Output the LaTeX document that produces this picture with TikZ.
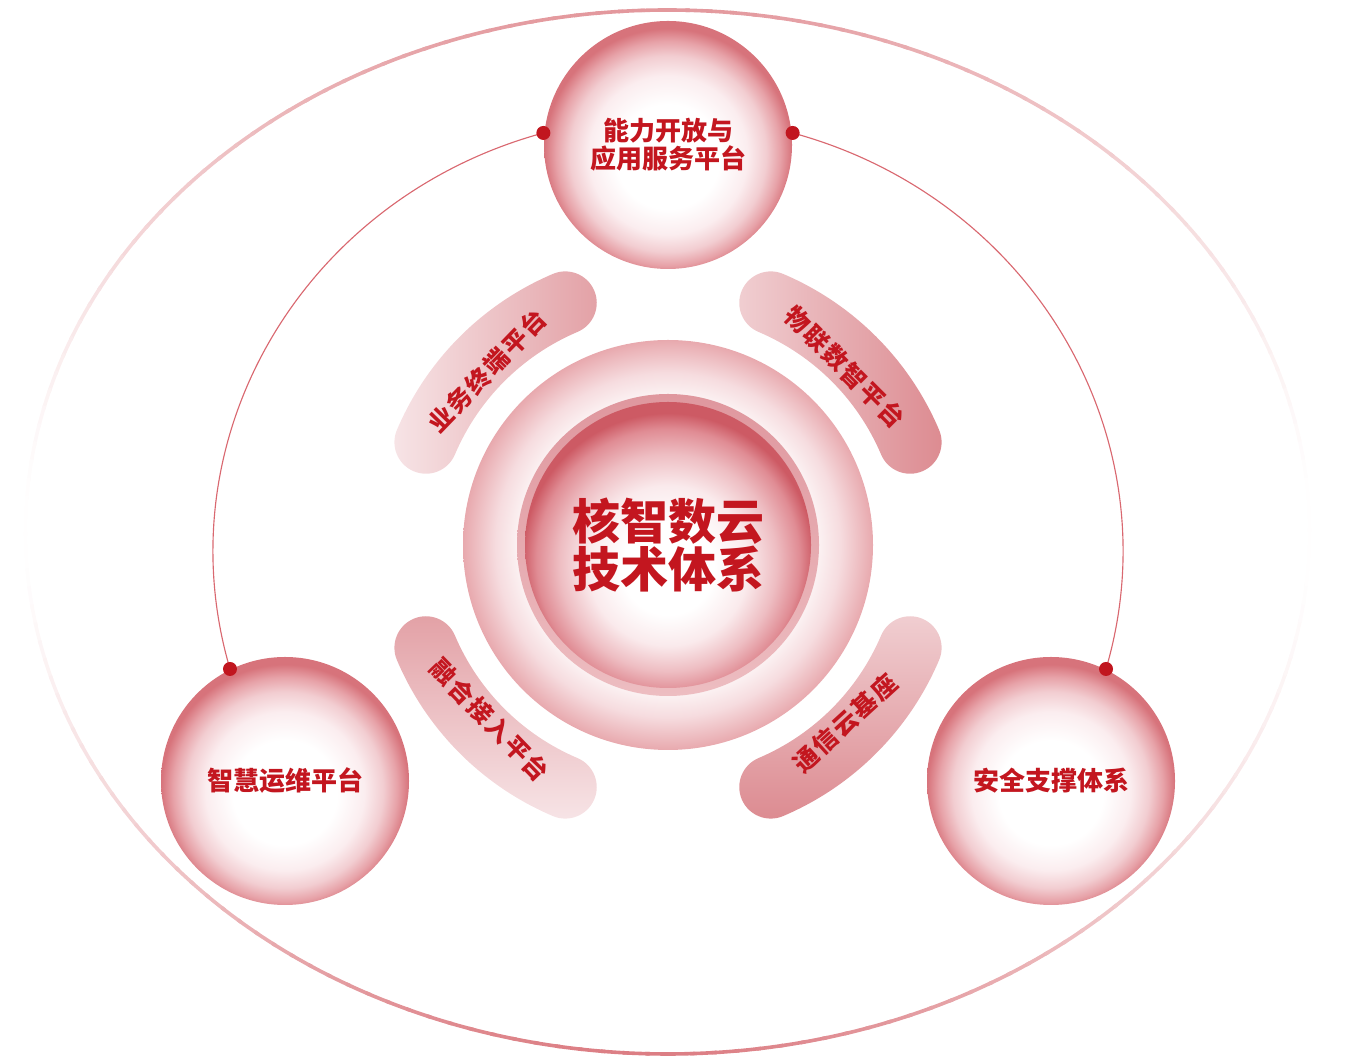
\documentclass[tikz,border=0pt]{standalone}
\usepackage{fontspec}
\newfontfamily\cjk{Noto Sans CJK SC}
\newfontfamily\cjkls{Noto Sans CJK SC}[LetterSpace=8]
\definecolor{txtred}{HTML}{C3161F}
\definecolor{dotred}{HTML}{C1161F}
\definecolor{ringc}{HTML}{DC7E84}
\definecolor{connc}{HTML}{D96870}
\definecolor{pilllight}{HTML}{F7E5E7}
\definecolor{pilldark}{HTML}{DC8A90}
\definecolor{bandtop}{HTML}{DF979E}
\definecolor{bandbot}{HTML}{EDBDC1}
\definecolor{nbA}{HTML}{FBEDEF}
\definecolor{nbB}{HTML}{F2CDD1}
\definecolor{nbC}{HTML}{E7A2A8}
\definecolor{nbD}{HTML}{D7737B}
\definecolor{cbA}{HTML}{FAEAEC}
\definecolor{cbB}{HTML}{EEBDC2}
\definecolor{cbC}{HTML}{E08C94}
\definecolor{cbD}{HTML}{CD5A64}
\definecolor{rgA}{HTML}{FBF0F1}
\definecolor{rgB}{HTML}{F6DCDF}
\definecolor{rgC}{HTML}{E8A9AE}
\pgfdeclareradialshading{nodeball}{\pgfpoint{0bp}{-3bp}}{color(0bp)=(white); color(10.5bp)=(white); color(16bp)=(nbA); color(19.8bp)=(nbB); color(22.6bp)=(nbC); color(25bp)=(nbD); color(50bp)=(nbD)}
\pgfdeclareradialshading{coreball}{\pgfpoint{0bp}{-5bp}}{color(0bp)=(white); color(8bp)=(white); color(14bp)=(cbA); color(19bp)=(cbB); color(23bp)=(cbC); color(25.5bp)=(cbD); color(50bp)=(cbD)}
\pgfdeclareradialshading{ringshade}{\pgfpoint{0bp}{0bp}}{color(0bp)=(rgA); color(18.5bp)=(rgA); color(21bp)=(rgB); color(25bp)=(rgC); color(50bp)=(rgC)}
\begin{document}
\begin{tikzpicture}[x=0.75pt,y=0.75pt,
  ball/.style={circle, minimum size=186pt, inner sep=0pt, outer sep=0pt, shade, shading=nodeball, align=center, text=txtred, font={\cjk\bfseries\fontsize{19.5pt}{21pt}\selectfont}},
  coreb/.style={circle, minimum size=214.5pt, inner sep=0pt, outer sep=0pt, shade, shading=coreball, align=center, text=txtred, font={\cjk\bfseries\fontsize{36pt}{35.5pt}\selectfont}},
  pilltxt/.style={text=txtred, inner sep=0pt, font={\cjkls\bfseries\fontsize{18.5pt}{20pt}\selectfont}},
  conn/.style={draw=connc, line width=0.85pt},
  dotn/.style={circle, fill=dotred, minimum size=10.5pt, inner sep=0pt},
  pillp/.style={insert path={(668,514) ++({#1-22}:294.5) arc[start angle={#1-22}, end angle={#1+22}, radius=294.5] arc[start angle={#1+22}, end angle={#1+202}, radius=31.5] arc[start angle={#1+22}, end angle={#1-22}, radius=231.5] arc[start angle={#1+158}, end angle={#1+338}, radius=31.5] -- cycle}}
]
\useasboundingbox (0,0) rectangle (1348,1059);
% outer ellipse with fading stroke
\foreach \a in {0,2,...,358}{
  \pgfmathsetmacro\s{abs(sin(\a+1.2))+0.001}
  \pgfmathsetmacro\f{(0.9-0.1*sin(\a+1.2))*(1-0.3*max(0,cos(\a+1.2)))}
  \pgfmathsetmacro\p{min(100,max(1,100*\f*\s^1.7))}
  \draw[line width=2.7pt, color=ringc!\p!white] ({667.5+642*cos(\a)},{527+522*sin(\a)}) arc[start angle=\a, end angle=\a+2.4, x radius=642, y radius=522];
}
% connector dots
\coordinate (dTL) at ({668+455*cos(105.9)},{507.7+435*sin(105.9)});
\coordinate (dBL) at ({668+455*cos(195.7)},{507.7+435*sin(195.7)});
\coordinate (dTR) at ({668+455*cos(74.1)},{507.7+435*sin(74.1)});
\coordinate (dBR) at ({668+455*cos(-15.7)},{507.7+435*sin(-15.7)});
\draw[conn] (dTL) arc[start angle=105.9, end angle=195.7, x radius=455, y radius=435];
\draw[conn] (dTR) arc[start angle=74.1, end angle=-15.7, x radius=455, y radius=435];
% central disk
\shade[shading=ringshade] (668,514) circle (205);
\shade[top color=bandtop, bottom color=bandbot] (668,514) circle (151);
\node[coreb] (core) at (668,514) {核智数云\\技术体系};
% pills
\shade[pillp=135, left color=pilllight, right color=pilldark];
\shade[pillp=45, left color=pilllight, right color=pilldark];
\shade[pillp=225, top color=pilldark, bottom color=pilllight];
\shade[pillp=315, top color=pilllight, bottom color=pilldark];
\node[pilltxt, rotate=46] (p1) at (487,688) {业务终端平台};
\node[pilltxt, rotate=-45] (p2) at (845,692) {物联数智平台};
\node[pilltxt, rotate=-46] (p3) at (490,339) {融合接入平台};
\node[pilltxt, rotate=42.5] (p4) at (845,336) {通信云基座};
% outer nodes
\node[ball] (cap) at (668,914) {能力开放与\\应用服务平台};
\node[ball] (ops) at (285,278) {智慧运维平台};
\node[ball] (sec) at (1051,278) {安全支撑体系};
\node[dotn] (nTL) at (dTL) {};
\node[dotn] (nTR) at (dTR) {};
\node[dotn] (nBL) at (dBL) {};
\node[dotn] (nBR) at (dBR) {};
\end{tikzpicture}
\end{document}
